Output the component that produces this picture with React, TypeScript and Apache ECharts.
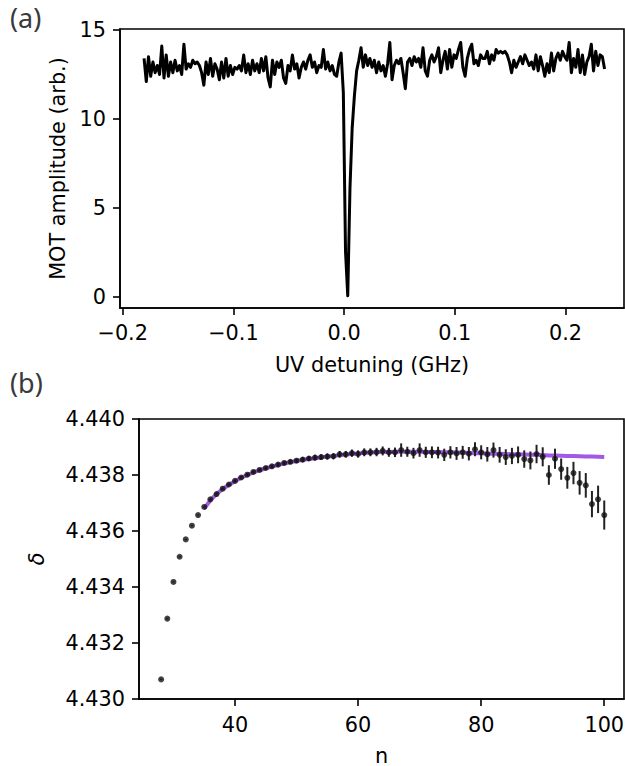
import React, { useEffect, useRef } from "react";
import * as echarts from "echarts";

// ---- Panel (a): MOT amplitude vs UV detuning ----
const DETUNING_START = -0.1807; // GHz
const DETUNING_STEP = 0.002; // GHz
const motAmplitude = [
  13.4, 12.1, 13.5, 12.4, 13.2, 12.6, 13.0, 12.5, 14.1, 12.3,
  13.6, 12.4, 13.2, 12.6, 13.3, 12.7, 13.0, 12.5, 14.2, 12.8,
  13.1, 12.9, 13.3, 13.1, 13.2, 13.0, 12.6, 11.9, 13.2, 12.5,
  13.4, 12.4, 13.1, 12.8, 12.2, 13.2, 12.3, 13.4, 12.4, 13.0,
  12.5, 12.9, 12.8, 13.0, 12.7, 13.6, 12.6, 13.1, 12.5, 13.3,
  12.7, 13.1, 12.6, 13.4, 12.7, 13.5, 12.3, 11.8, 13.3, 12.5,
  13.2, 12.9, 13.3, 12.3, 12.0, 13.0, 12.7, 13.6, 12.8, 13.1,
  12.3, 12.9, 13.2, 12.8, 13.3, 13.6, 12.9, 13.2, 12.6, 13.0,
  12.9, 13.9, 12.8, 13.2, 12.7, 13.0, 12.5, 12.4, 13.2, 13.7,
  11.5, 2.5, 0.05, 6.1, 9.5, 11.3, 12.7, 13.3, 14.0, 12.9,
  13.6, 13.0, 13.4, 12.9, 13.3, 12.6, 13.2, 12.7, 13.0, 12.4,
  13.1, 14.3, 12.2, 13.0, 13.3, 13.1, 13.4, 12.6, 11.7, 13.2,
  13.4, 13.0, 13.5, 13.2, 13.4, 12.9, 14.0, 12.7, 12.4, 13.3,
  13.6, 13.2, 13.5, 14.0, 12.6, 13.3, 13.8, 12.8, 13.9, 12.9,
  13.6, 13.4, 13.9, 14.3, 12.9, 12.4, 13.4, 13.9, 14.2, 13.1,
  13.3, 13.0, 13.6, 13.4, 13.4, 13.8, 13.1, 13.6, 13.3, 13.9,
  13.7, 13.8, 13.7, 13.8, 13.6, 13.2, 12.6, 13.3, 12.9, 13.2,
  13.5, 13.1, 13.6, 13.3, 13.0, 13.2, 12.8, 13.6, 12.7, 13.5,
  13.0, 12.4, 13.1, 12.6, 13.7, 12.7, 13.4, 13.7, 13.3, 13.8,
  13.5, 13.3, 14.3, 12.6, 13.4, 12.9, 13.9, 12.6, 13.6, 12.5,
  13.2, 13.5, 14.2, 12.7, 13.8, 13.0, 13.6, 13.5, 12.8,
];
const topXTicks = [-0.2, -0.1, 0.0, 0.1, 0.2];
const topYTicks = [0, 5, 10, 15];

// ---- Panel (b): quantum defect delta vs n ----
const nValues = [
  28, 29, 30, 31, 32, 33, 34, 35, 36, 37, 38, 39, 40, 41, 42, 43, 44, 45, 46, 47,
  48, 49, 50, 51, 52, 53, 54, 55, 56, 57, 58, 59, 60, 61, 62, 63, 64, 65, 66, 67,
  68, 69, 70, 71, 72, 73, 74, 75, 76, 77, 78, 79, 80, 81, 82, 83, 84, 85, 86, 87,
  88, 89, 90, 91, 92, 93, 94, 95, 96, 97, 98, 99, 100,
];
const deltaValues = [
  4.4307, 4.43287, 4.43418, 4.43508, 4.4357, 4.43619, 4.43657, 4.43686, 4.43713, 4.43732,
  4.43751, 4.43766, 4.43779, 4.43791, 4.43801, 4.43811, 4.43818, 4.43825, 4.43831, 4.43837,
  4.43843, 4.43847, 4.43851, 4.43855, 4.43859, 4.43862, 4.43864, 4.43866, 4.43867, 4.43874,
  4.43874, 4.43878, 4.43875, 4.43881, 4.43881, 4.43882, 4.43886, 4.43881, 4.43881, 4.43889,
  4.43883, 4.43878, 4.43889, 4.43881, 4.43881, 4.4388, 4.43872, 4.43881, 4.43877, 4.43881,
  4.43876, 4.43892, 4.43881, 4.43874, 4.43889, 4.43872, 4.43864, 4.43868, 4.43872, 4.43857,
  4.43852, 4.43875, 4.43865, 4.438, 4.43858, 4.43821, 4.4379, 4.43807, 4.43772, 4.43763,
  4.43696, 4.43713, 4.43657,
];
const deltaErrors = [
  0.00002, 0.00002, 0.00002, 0.00002, 0.00002, 0.00002, 0.00002, 0.00002,
  0.00003, 0.00003, 0.00003, 0.00004, 0.00004, 0.00004, 0.00005, 0.00005, 0.00005, 0.00006,
  0.00006, 0.00007, 0.00007, 0.00008, 0.00008, 0.00009, 0.00009, 0.0001, 0.0001, 0.00011,
  0.00011, 0.00012, 0.00012, 0.00013, 0.00013, 0.00014, 0.00014, 0.00015, 0.00016, 0.00016,
  0.00017, 0.00024, 0.00018, 0.00019, 0.00024, 0.0002, 0.00021, 0.00021, 0.00022, 0.00022,
  0.00023, 0.00023, 0.00024, 0.00025, 0.00025, 0.00026, 0.00027, 0.00028, 0.00028, 0.00029,
  0.0003, 0.00031, 0.00032, 0.00033, 0.00034, 0.00035, 0.00036, 0.00038, 0.00039, 0.0004,
  0.00042, 0.00044, 0.00047, 0.00049, 0.00052,
];
const fitN = [
  35, 36, 37, 38, 39, 40, 41, 42, 43, 44, 45, 46, 47, 48, 49, 50, 51, 52, 53, 54,
  55, 56, 57, 58, 59, 60, 61, 62, 63, 64, 65, 66, 67, 68, 69, 70, 71, 72, 73, 74,
  75, 76, 77, 78, 79, 80, 81, 82, 83, 84, 85, 86, 87, 88, 89, 90, 91, 92, 93, 94,
  95, 96, 97, 98, 99, 100,
];
const fitDelta = [
  4.4368, 4.4371, 4.43732, 4.4375, 4.43765, 4.43778, 4.4379, 4.438, 4.43809, 4.43817,
  4.43824, 4.4383, 4.43836, 4.43841, 4.43846, 4.4385, 4.43854, 4.43857, 4.4386, 4.43863,
  4.43866, 4.43868, 4.43871, 4.43873, 4.43875, 4.43877, 4.43879, 4.4388, 4.43881, 4.43882,
  4.43882, 4.43883, 4.43883, 4.43883, 4.43883, 4.43883, 4.43882, 4.43882, 4.43882, 4.43881,
  4.43881, 4.4388, 4.4388, 4.43879, 4.43878, 4.43878, 4.43877, 4.43876, 4.43876, 4.43875,
  4.43874, 4.43874, 4.43873, 4.43872, 4.43872, 4.43871, 4.4387, 4.4387, 4.43869, 4.43868,
  4.43868, 4.43867, 4.43866, 4.43866, 4.43865, 4.43864,
];
const bottomXTicks = [40, 60, 80, 100];
const bottomYTicks = [4.43, 4.432, 4.434, 4.436, 4.438, 4.44];

const FONT = "DejaVu Sans";
const FS = 20.8;
const INK = "#000";

export default function App() {
  const ref = useRef<HTMLDivElement>(null);

  useEffect(() => {
    if (!ref.current) return;
    const chart = echarts.init(ref.current, null, { renderer: "svg" });

    const traceData = motAmplitude.map((v, i) => [DETUNING_START + i * DETUNING_STEP, v]);
    const pointData = nValues.map((n, i) => [n, deltaValues[i], deltaErrors[i]]);
    const fitData = fitN.map((n, i) => [n, fitDelta[i]]);

    const axisCommon = {
      axisLine: { show: true, onZero: false, lineStyle: { color: INK, width: 1.6 } },
      axisTick: { show: true, inside: false, length: 7, lineStyle: { color: INK, width: 1.6 } },
      splitLine: { show: false },
      nameTextStyle: { fontFamily: FONT, fontSize: FS, color: INK },
    };
    const labelCommon = { fontFamily: FONT, fontSize: FS, color: INK, margin: 14 };

    const fmtMinus = (v: number, d: number) => (v < -1e-9 ? "\u2212" : "") + Math.abs(v).toFixed(d);

    chart.setOption({
      animation: false,
      backgroundColor: "#fff",
      textStyle: { fontFamily: FONT },
      grid: [
        { left: 120, top: 29, width: 504, height: 279, show: true, borderColor: INK, borderWidth: 1.6, backgroundColor: "transparent", containLabel: false, outerBoundsMode: "none" },
        { left: 139, top: 419, width: 485, height: 280, show: true, borderColor: INK, borderWidth: 1.6, backgroundColor: "transparent", containLabel: false, outerBoundsMode: "none" },
      ],
      xAxis: [
        {
          ...axisCommon,
          type: "value",
          gridIndex: 0,
          min: -0.20244,
          max: 0.25284,
          name: "UV detuning (GHz)",
          nameLocation: "middle",
          nameGap: 46,
          axisTick: { ...axisCommon.axisTick, customValues: topXTicks },
          axisLabel: { ...labelCommon, customValues: topXTicks, formatter: (v: number) => fmtMinus(v, 1) },
        },
        {
          ...axisCommon,
          type: "value",
          gridIndex: 1,
          min: 24.4,
          max: 103.21,
          name: "n",
          nameLocation: "middle",
          nameGap: 46,
          axisTick: { ...axisCommon.axisTick, customValues: bottomXTicks },
          axisLabel: { ...labelCommon, margin: 15, customValues: bottomXTicks, formatter: (v: number) => String(Math.round(v)) },
        },
      ],
      yAxis: [
        {
          ...axisCommon,
          type: "value",
          gridIndex: 0,
          min: -0.636,
          max: 15.056,
          name: "MOT amplitude (arb.)",
          nameLocation: "middle",
          nameGap: 50,
          axisTick: { ...axisCommon.axisTick, customValues: topYTicks },
          axisLabel: { ...labelCommon, customValues: topYTicks, formatter: (v: number) => String(Math.round(v)) },
        },
        {
          ...axisCommon,
          type: "value",
          gridIndex: 1,
          min: 4.43,
          max: 4.44,
          name: "\u03B4",
          nameLocation: "middle",
          nameGap: 92,
          nameTextStyle: { ...axisCommon.nameTextStyle, fontStyle: "italic" },
          axisTick: { ...axisCommon.axisTick, customValues: bottomYTicks },
          axisLabel: { ...labelCommon, customValues: bottomYTicks, formatter: (v: number) => v.toFixed(3) },
        },
      ],
      graphic: [
        { type: "text", left: 10, top: 4, style: { text: "(a)", font: '27px "Noto Sans"', fill: "#3a3a3a" } },
        { type: "text", left: 10, top: 369, style: { text: "(b)", font: '27px "Noto Sans"', fill: "#3a3a3a" } },
      ],
      series: [
        {
          type: "line",
          xAxisIndex: 0,
          yAxisIndex: 0,
          data: traceData,
          showSymbol: false,
          symbol: "none",
          lineStyle: { color: "#000", width: 3, join: "round" },
          z: 2,
        },
        {
          type: "line",
          xAxisIndex: 1,
          yAxisIndex: 1,
          data: fitData,
          showSymbol: false,
          symbol: "none",
          smooth: false,
          lineStyle: { color: "#a259e6", width: 4 },
          z: 2,
        },
        {
          type: "custom",
          xAxisIndex: 1,
          yAxisIndex: 1,
          data: pointData,
          encode: { x: 0, y: 1 },
          renderItem: (params: any, api: any) => {
            const n = api.value(0);
            const v = api.value(1);
            const e = api.value(2);
            const p1 = api.coord([n, v - e]);
            const p2 = api.coord([n, v + e]);
            return {
              type: "line",
              shape: { x1: p1[0], y1: p1[1], x2: p2[0], y2: p2[1] },
              style: { stroke: "#222", lineWidth: 2 },
            };
          },
          z: 3,
        },
        {
          type: "scatter",
          xAxisIndex: 1,
          yAxisIndex: 1,
          data: pointData.map((d) => [d[0], d[1]]),
          symbol: "circle",
          symbolSize: 6,
          itemStyle: { color: "#111" },
          z: 4,
        },
      ],
    });

    return () => chart.dispose();
  }, []);

  return (
    <div
      ref={ref}
      style={{ position: "absolute", left: 0, top: 0, width: 625, height: 766 }}
    />
  );
}
